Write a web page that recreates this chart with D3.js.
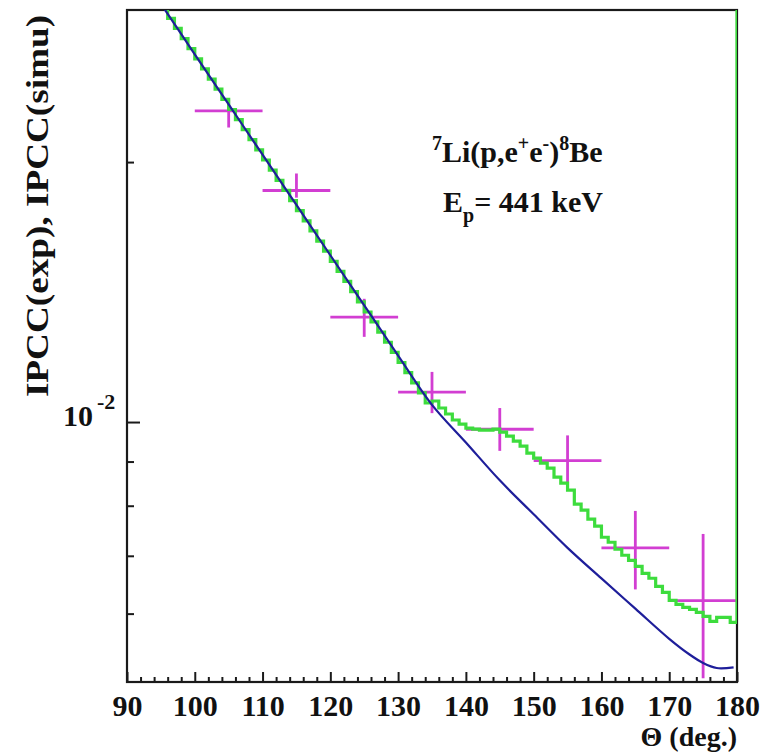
<!DOCTYPE html>
<html>
<head>
<meta charset="utf-8">
<script src="https://cdn.jsdelivr.net/npm/d3@7/dist/d3.min.js"></script>
<style>
  html, body { margin: 0; padding: 0; background: #fff; }
  svg { display: block; }
  text { font-family: "Liberation Serif", "Times New Roman", serif; font-weight: bold; fill: #111; }
</style>
</head>
<body>
<div id="chart"></div>
<script>
// Measured internal pair conversion coefficient vs. opening angle
const expTheta   = [105, 115, 125, 135, 145, 155, 165, 175];
const expIPCC    = [0.02292, 0.01854, 0.01323, 0.01083, 0.00981, 0.00902, 0.00715, 0.00621];
const expUpper   = [0.02363, 0.01940, 0.01389, 0.01143, 0.01038, 0.00965, 0.00789, 0.00742];
const expLower   = [0.02193, 0.01819, 0.01255, 0.01024, 0.00926, 0.00839, 0.00640, 0.00505];
const expHalfBin = [5, 5, 5, 5, 5, 5, 5, 5];

// Smooth simulated curve (E1 / M1 pairs only)
const curveTheta = [95, 100, 105, 110, 115, 120, 125, 130, 135, 140, 145, 150, 155, 160, 165, 170, 173, 175, 177, 179.5];
const curveIPCC  = [0.03050, 0.02666, 0.02332, 0.02040, 0.01784, 0.01560, 0.01365, 0.01194, 0.01047, 0.00947,
                    0.00856, 0.00782, 0.00715, 0.00659, 0.00608, 0.00561, 0.00538, 0.00526, 0.00519, 0.00520];

// Simulated histogram, 1-degree bins starting at 95 deg
const histStart = 95;
const histWidth = 1;
const histIPCC = [
  0.03014, 0.02934, 0.02856, 0.02780, 0.02706, 0.02634, 0.02564, 0.02495, 0.02429, 0.02364,
  0.02301, 0.02240, 0.02181, 0.02123, 0.02066, 0.02011, 0.01957, 0.01905, 0.01855, 0.01805,
  0.01757, 0.01710, 0.01665, 0.01620, 0.01577, 0.01535, 0.01494, 0.01455, 0.01416, 0.01378,
  0.01341, 0.01306, 0.01271, 0.01237, 0.01204, 0.01172, 0.01141, 0.01110, 0.01081, 0.01052,
  0.010577, 0.010381, 0.010216, 0.010054, 0.009947, 0.009841, 0.009815, 0.009789, 0.009789, 0.009815,
  0.009737, 0.009633, 0.009506, 0.009379, 0.009206, 0.009084, 0.008963, 0.008844, 0.008634, 0.008497,
  0.008339, 0.008033, 0.007906, 0.007718, 0.007575, 0.007355, 0.007258, 0.007123, 0.007010, 0.006917,
  0.006807, 0.006681, 0.006593, 0.006453, 0.006351, 0.006216, 0.006150, 0.006101, 0.006069, 0.006020,
  0.005956, 0.005877, 0.005940, 0.005940, 0.005862
];

// Axis setup
const xDomain = [90, 180];
const yDomain = [0.005, 0.03];
const xMajorTicks = [90, 100, 110, 120, 130, 140, 150, 160, 170, 180];
const xMinorTicks = d3.range(90, 181, 2);
const yMajorTicks = [0.01];
const yMinorTicks = [0.02, 0.009, 0.008, 0.007, 0.006];

const W = 764, H = 754;
const plot = { left: 127, right: 737, top: 10, bottom: 682 };

const svg = d3.select("#chart").append("svg").attr("width", W).attr("height", H);

const x = d3.scaleLinear().domain(xDomain).range([plot.left, plot.right]);
const y = d3.scaleLog().domain(yDomain).range([plot.bottom, plot.top]);

svg.append("defs").append("clipPath").attr("id", "plotClip")
  .append("rect")
  .attr("x", plot.left).attr("y", plot.top)
  .attr("width", plot.right - plot.left).attr("height", plot.bottom - plot.top);

// Frame
svg.append("rect")
  .attr("x", plot.left).attr("y", plot.top)
  .attr("width", plot.right - plot.left).attr("height", plot.bottom - plot.top)
  .attr("fill", "none").attr("stroke", "#1a1a1a").attr("stroke-width", 2.2);

// X axis: major + minor ticks pointing inward
const xMajor = svg.append("g").attr("transform", `translate(0,${plot.bottom})`)
  .call(d3.axisBottom(x).tickValues(xMajorTicks).tickSize(-10).tickFormat(d3.format("d")));
xMajor.select(".domain").remove();
xMajor.selectAll("line").attr("stroke", "#1a1a1a").attr("stroke-width", 2);
xMajor.selectAll("text")
  .attr("y", 13).attr("dy", "0.71em")
  .style("font-size", "30px").style("font-family", "'Liberation Serif', serif").style("font-weight", "bold")
  .attr("fill", "#111");

const xMinor = svg.append("g").attr("transform", `translate(0,${plot.bottom})`)
  .call(d3.axisBottom(x).tickValues(xMinorTicks.filter(v => !xMajorTicks.includes(v))).tickSize(-5).tickFormat(""));
xMinor.select(".domain").remove();
xMinor.selectAll("line").attr("stroke", "#1a1a1a").attr("stroke-width", 2);

// Y axis ticks
const yMajor = svg.append("g").attr("transform", `translate(${plot.left},0)`)
  .call(d3.axisLeft(y).tickValues(yMajorTicks).tickSize(-13).tickFormat(""));
yMajor.select(".domain").remove();
yMajor.selectAll("line").attr("stroke", "#1a1a1a").attr("stroke-width", 2);

const yMinor = svg.append("g").attr("transform", `translate(${plot.left},0)`)
  .call(d3.axisLeft(y).tickValues(yMinorTicks).tickSize(-7).tickFormat(""));
yMinor.select(".domain").remove();
yMinor.selectAll("line").attr("stroke", "#1a1a1a").attr("stroke-width", 2);

// 10^-2 label
yMajorTicks.forEach(v => {
  const exp = Math.round(Math.log10(v));
  svg.append("text").attr("x", plot.left - 34).attr("y", y(v) + 4)
    .attr("text-anchor", "end").style("font-size", "30px").text("10");
  svg.append("text").attr("x", plot.left - 30).attr("y", y(v) - 13)
    .attr("text-anchor", "start").style("font-size", "22px").text(String(exp));
});

// Axis titles
svg.append("text")
  .attr("x", plot.right).attr("y", 746)
  .attr("text-anchor", "end").style("font-size", "28px")
  .text("\u0398 (deg.)");

// Vertical title, glyphs stretched along the reading direction
svg.append("text")
  .attr("transform", `translate(48, 206) rotate(-90) scale(1.2, 1)`)
  .attr("text-anchor", "middle").style("font-size", "31px")
  .text("IPCC(exp), IPCC(simu)");

// Data layers
const layer = svg.append("g").attr("clip-path", "url(#plotClip)");

// Error bars
const magenta = "#d23ed2";
expTheta.forEach((t, i) => {
  layer.append("line")
    .attr("x1", x(t - expHalfBin[i])).attr("x2", x(t + expHalfBin[i]))
    .attr("y1", y(expIPCC[i])).attr("y2", y(expIPCC[i]))
    .attr("stroke", magenta).attr("stroke-width", 2.8);
  layer.append("line")
    .attr("x1", x(t)).attr("x2", x(t))
    .attr("y1", y(expUpper[i])).attr("y2", y(expLower[i]))
    .attr("stroke", magenta).attr("stroke-width", 2.8);
});

// Histogram as a step outline; after the last bin the outline rises to the top
let histPath = d3.path();
histIPCC.forEach((v, i) => {
  const x0 = x(histStart + i * histWidth), x1 = x(histStart + (i + 1) * histWidth);
  if (i === 0) histPath.moveTo(x0, y(v)); else histPath.lineTo(x0, y(v));
  histPath.lineTo(x1, y(v));
});
const histEnd = histStart + histIPCC.length * histWidth;
histPath.lineTo(x(histEnd), y(yDomain[1]));

layer.append("path")
  .attr("d", histPath.toString())
  .attr("fill", "none").attr("stroke", "#3ddc3d").attr("stroke-width", 3.2)
  .attr("stroke-linejoin", "miter");

// Smooth curve
layer.append("path")
  .datum(curveTheta.map((t, i) => [t, curveIPCC[i]]))
  .attr("d", d3.line().x(d => x(d[0])).y(d => y(d[1])).curve(d3.curveCatmullRom.alpha(0.5)))
  .attr("fill", "none").attr("stroke", "#1e1e9a").attr("stroke-width", 2.2);

// Reaction and beam energy labels
const t1 = svg.append("text").attr("x", 432).attr("y", 162).style("font-size", "30px");
t1.append("tspan").style("font-size", "20px").attr("dy", -12).text("7");
t1.append("tspan").attr("dy", 12).text("Li(p,e");
t1.append("tspan").style("font-size", "20px").attr("dy", -12).text("+");
t1.append("tspan").attr("dy", 12).text("e");
t1.append("tspan").style("font-size", "20px").attr("dy", -12).text("-");
t1.append("tspan").attr("dy", 12).text(")");
t1.append("tspan").style("font-size", "20px").attr("dy", -12).text("8");
t1.append("tspan").attr("dy", 12).text("Be");

const t2 = svg.append("text").attr("x", 443).attr("y", 212).style("font-size", "30px");
t2.append("tspan").text("E");
t2.append("tspan").style("font-size", "20px").attr("dy", 10).text("p");
t2.append("tspan").attr("dy", -10).text("= 441 keV");
</script>
</body>
</html>
